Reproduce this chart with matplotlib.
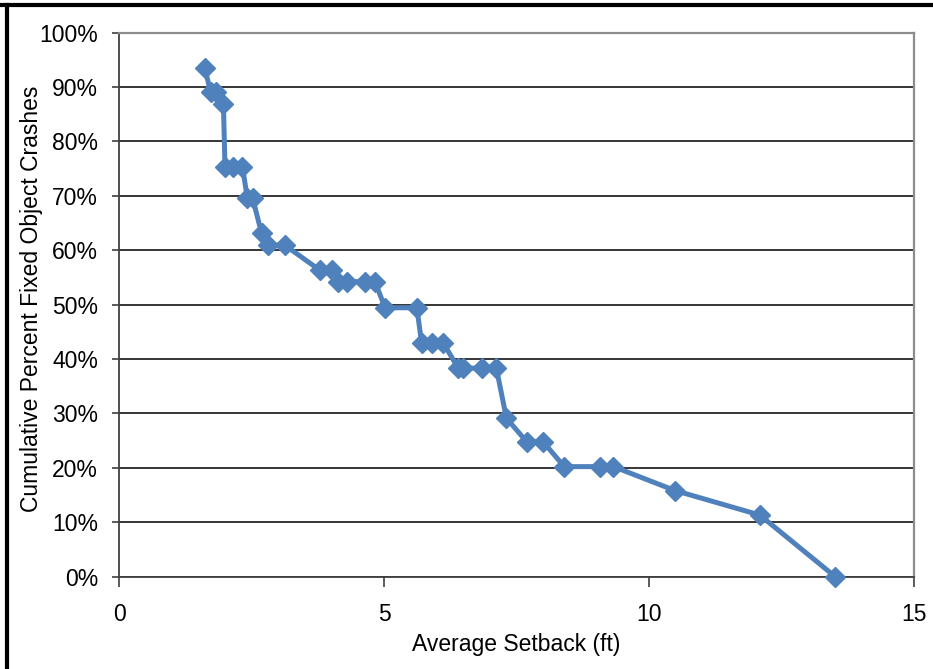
import matplotlib
matplotlib.use("Agg")
import matplotlib.pyplot as plt
from matplotlib.lines import Line2D
from matplotlib.ticker import FuncFormatter

setback_ft = [1.62, 1.73, 1.83, 1.97, 2.0, 2.16, 2.33, 2.42, 2.52, 2.69, 2.82, 3.13,
              3.79, 4.01, 4.14, 4.30, 4.64, 4.83, 5.02, 5.62, 5.71, 5.90, 6.12,
              6.40, 6.49, 6.84, 7.12, 7.31, 7.69, 8.00, 8.40, 9.08, 9.33,
              10.49, 12.09, 13.51]
cum_pct = [93.4, 89.0, 89.0, 86.8, 75.3, 75.3, 75.3, 69.6, 69.6, 63.1, 60.9, 60.9,
           56.3, 56.3, 54.2, 54.2, 54.2, 54.2, 49.4, 49.4, 42.9, 42.9, 42.9,
           38.3, 38.3, 38.3, 38.3, 29.1, 24.8, 24.8, 20.2, 20.2, 20.2,
           15.8, 11.3, 0.0]
x_ticks = [0, 5, 10, 15]
y_ticks = [0, 10, 20, 30, 40, 50, 60, 70, 80, 90, 100]

plt.rcParams['font.family'] = ['Liberation Sans', 'DejaVu Sans']

fig = plt.figure(figsize=(9.33, 6.69), dpi=100)
ax = fig.add_axes([119/933, 1-576.5/669, (914-119)/933, (576.5-32.5)/669])

ax.plot(setback_ft, cum_pct, color='#4F81BD', lw=3.6, marker='D', markersize=10.5,
        markeredgecolor='#4F81BD', zorder=3, clip_on=False)

ax.set_xlim(0, 15)
ax.set_ylim(0, 100)
ax.set_xticks(x_ticks)
ax.set_yticks(y_ticks)
ax.yaxis.set_major_formatter(FuncFormatter(lambda v, p: f"{int(v)}%"))
ax.grid(axis='y', color='#262626', lw=1.3)
ax.set_axisbelow(True)
for s in ['top', 'right']:
    ax.spines[s].set_color('#8c8c8c')
    ax.spines[s].set_linewidth(1.6)
for s in ['left', 'bottom']:
    ax.spines[s].set_color('#404040')
    ax.spines[s].set_linewidth(1.3)
ax.tick_params(axis='y', length=5, width=1.2, color='#404040', labelsize=16.5, pad=10)
ax.tick_params(axis='x', length=7, width=1.2, color='#404040', labelsize=16.5, pad=12)
ax.set_xlabel('Average Setback (ft)', fontsize=16.5, labelpad=5)
ax.set_ylabel('Cumulative Percent Fixed Object Crashes', fontsize=16.5)
ax.yaxis.set_label_coords((43 - 119) / 795, 0.51)

fig.add_artist(Line2D([0, 1], [1 - 5/669, 1 - 5/669], color='black', lw=3, transform=fig.transFigure))
fig.add_artist(Line2D([7/933, 7/933], [0, 1 - 5/669], color='black', lw=3, transform=fig.transFigure))

fig.savefig('out.png', dpi=100)
